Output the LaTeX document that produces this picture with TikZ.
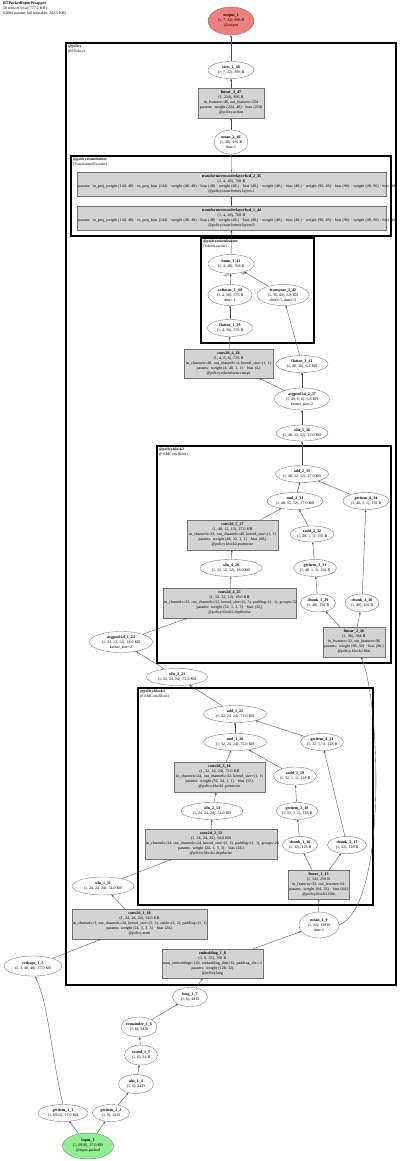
\documentclass[tikz,border=0pt]{standalone}
\usepackage{fontspec}
\setmainfont{Liberation Serif}
\usetikzlibrary{shapes.geometric,arrows.meta}
\definecolor{outred}{HTML}{F08080}
\definecolor{ingreen}{HTML}{90EE90}
\definecolor{opgray}{HTML}{D3D3D3}
\tikzset{
 every node/.style={font=\fontsize{4}{5}\selectfont},
 ell/.style={ellipse, draw=black!55, fill=white, line width=0.35pt, inner xsep=-4pt, inner ysep=-2pt, align=center},
 opbox/.style={rectangle, draw=black!55, fill=opgray, line width=0.35pt, inner xsep=1pt, inner ysep=1pt, align=center},
 clus/.style={draw=black, line width=1.4pt},
 clab/.style={anchor=north west, align=left, inner sep=0pt, font=\fontsize{3.8}{4.4}\selectfont},
 edge/.style={draw=black!70, line width=0.35pt, -{Stealth[length=2.4pt,width=2pt]}},
 elab/.style={inner sep=0pt, font=\fontsize{2.8}{3}\selectfont},
}
\begin{document}
\begin{tikzpicture}[x=1pt,y=-1pt]
\fill[white] (0,0) rectangle (400,1161);
\useasboundingbox (0,0) rectangle (400,1161);

% header
\node[anchor=north west, align=left, inner sep=0pt, font=\fontsize{4}{4.6}\selectfont] (hdr) at (3,2)
 {\textbf{RTPackedInputWrapper}\\58 tensors total (777.2 KB)\\62084 params (all trainable; 242.5 KB)};

% clusters
\draw[clus] (66,43) rectangle (396,985);
\node[clab] (lab_policy) at (68,45) {\textbf{@policy}\\(RTPolicy)};
\draw[clus] (71,156) rectangle (391,236);
\node[clab] (lab_tf) at (73,158) {\textbf{@policy.transformer}\\(TransformerEncoder)};
\draw[clus] (201,238) rectangle (314,343);
\node[clab] (lab_tl) at (203,240) {\textbf{@policy.tokenlearner}\\(TokenLearner)};
\draw[clus] (157,446) rectangle (391,663);
\node[clab] (lab_b2) at (159,448) {\textbf{@policy.block2}\\(FiLMConvBlock)};
\draw[clus] (138,688) rectangle (373,905);
\node[clab] (lab_b1) at (140,690) {\textbf{@policy.block1}\\(FiLMConvBlock)};

% top
\node[ell, fill=outred, minimum width=46pt, minimum height=28pt] (output_1) at (231,21)
 {\textbf{output\_1}\\(1, 7, 32), 896 B\\@output};
\node[ell, minimum width=46pt, minimum height=17pt] (view_1_48) at (231,70)
 {\textbf{view\_1\_48}\\(1, 7, 32), 896 B};
\node[opbox, text width=64pt, minimum height=30pt] (linear_3_47) at (231,103)
 {\textbf{linear\_3\_47}\\(1, 224), 896 B\\\mbox{in\_features=48, out\_features=224}\\\mbox{params: weight (224, 48) · bias (224)}\\@policy.action};
\node[ell, minimum width=34pt, minimum height=24pt] (mean_2_46) at (231,142)
 {\textbf{mean\_2\_46}\\(1, 48), 192 B\\dim=1};

% transformer
\node[opbox, text width=307pt, minimum height=24pt] (tf_2_45) at (231.5,184)
 {\textbf{transformerencoderlayerfwd\_2\_45}\\(1, 4, 48), 768 B\\\mbox{params: in\_proj\_weight (144, 48) · in\_proj\_bias (144) · weight (48, 48) · bias (48) · weight (48,) · bias (48,) · weight (48,) · bias (48,) · weight (96, 48) · bias (96) · weight (48, 96) · bias (48)}\\@policy.transformer.layers.1};
\node[opbox, text width=307pt, minimum height=24pt] (tf_1_44) at (231.5,218)
 {\textbf{transformerencoderlayerfwd\_1\_44}\\(1, 4, 48), 768 B\\\mbox{params: in\_proj\_weight (144, 48) · in\_proj\_bias (144) · weight (48, 48) · bias (48) · weight (48,) · bias (48,) · weight (48,) · bias (48,) · weight (96, 48) · bias (96) · weight (48, 96) · bias (48)}\\@policy.transformer.layers.0};

% tokenlearner
\node[ell, minimum width=46pt, minimum height=19pt] (bmm_1_43) at (231,264)
 {\textbf{bmm\_1\_43}\\(1, 4, 48), 768 B};
\node[ell, minimum width=44pt, minimum height=21pt] (softmax_1_40) at (230,295)
 {\textbf{softmax\_1\_40}\\(1, 4, 36), 576 B\\dim=-1};
\node[ell, minimum width=52pt, minimum height=21pt] (transpose_1_42) at (283,295)
 {\textbf{transpose\_1\_42}\\(1, 36, 48), 6.8 KB\\dim0=1, dim1=2};
\node[ell, minimum width=45pt, minimum height=17pt] (flatten_1_39) at (230,328)
 {\textbf{flatten\_1\_39}\\(1, 4, 36), 576 B};
\node[opbox, text width=87pt, minimum height=29pt] (conv2d_4_38) at (228.5,363.5)
 {\textbf{conv2d\_4\_38}\\(1, 4, 6, 6), 576 B\\\mbox{in\_channels=48, out\_channels=4, kernel\_size=(1, 1)}\\\mbox{params: weight (4, 48, 1, 1) · bias (4,)}\\@policy.tokenlearner.maps};
\node[ell, minimum width=52pt, minimum height=17pt] (flatten_2_41) at (302,364)
 {\textbf{flatten\_2\_41}\\(1, 48, 36), 6.8 KB};
\node[ell, minimum width=55pt, minimum height=22pt] (avgpool2d_2_37) at (302,399)
 {\textbf{avgpool2d\_2\_37}\\(1, 48, 6, 6), 6.8 KB\\kernel\_size=2};
\node[ell, minimum width=52pt, minimum height=16pt] (silu_5_36) at (302,433)
 {\textbf{silu\_5\_36}\\(1, 48, 12, 12), 27.0 KB};

% block2
\node[ell, minimum width=53pt, minimum height=17pt] (add_2_35) at (302,474)
 {\textbf{add\_2\_35}\\(1, 48, 12, 12), 27.0 KB};
\node[ell, minimum width=56pt, minimum height=17pt] (mul_2_33) at (295,501)
 {\textbf{mul\_2\_33}\\(1, 48, 12, 12), 27.0 KB};
\node[ell, minimum width=46pt, minimum height=17pt] (getitem_6_34) at (366,501)
 {\textbf{getitem\_6\_34}\\(1, 48, 1, 1), 192 B};
\node[opbox, text width=89pt, minimum height=30pt] (conv2d_5_27) at (232.5,535)
 {\textbf{conv2d\_5\_27}\\(1, 48, 12, 12), 27.0 KB\\\mbox{in\_channels=32, out\_channels=48, kernel\_size=(1, 1)}\\\mbox{params: weight (48, 32, 1, 1) · bias (48,)}\\@policy.block2.pointwise};
\node[ell, minimum width=44pt, minimum height=16pt] (radd_2_32) at (312,534)
 {\textbf{radd\_2\_32}\\(1, 48, 1, 1), 192 B};
\node[ell, minimum width=62pt, minimum height=17pt] (silu_4_28) at (231,568)
 {\textbf{silu\_4\_28}\\(1, 32, 12, 12), 18.0 KB};
\node[ell, minimum width=43pt, minimum height=17pt] (getitem_3_31) at (315,568)
 {\textbf{getitem\_3\_31}\\(1, 48, 1, 1), 192 B};
\node[opbox, text width=131pt, minimum height=30pt] (conv2d_4_25) at (229.5,603)
 {\textbf{conv2d\_4\_25}\\(1, 32, 12, 12), 18.0 KB\\\mbox{in\_channels=32, out\_channels=32, kernel\_size=(3, 3), padding=(1, 1), groups=32}\\\mbox{params: weight (32, 1, 3, 3) · bias (32,)}\\@policy.block2.depthwise};
\node[ell, minimum width=35pt, minimum height=18pt] (chunk_3_29) at (318,603)
 {\textbf{chunk\_3\_29}\\(1, 48), 192 B};
\node[ell, minimum width=34pt, minimum height=18pt] (chunk_4_30) at (362,603)
 {\textbf{chunk\_4\_30}\\(1, 48), 192 B};
\node[opbox, text width=60pt, minimum height=30pt] (linear_2_26) at (354,642)
 {\textbf{linear\_2\_26}\\(1, 96), 384 B\\\mbox{in\_features=32, out\_features=96}\\\mbox{params: weight (96, 32) · bias (96,)}\\@policy.block2.film};

% between blocks
\node[ell, minimum width=63pt, minimum height=21pt] (avgpool2d_1_24) at (121,642)
 {\textbf{avgpool2d\_1\_24}\\(1, 32, 12, 12), 18.0 KB\\kernel\_size=2};
\node[ell, minimum width=61pt, minimum height=17pt] (silu_3_23) at (177,677)
 {\textbf{silu\_3\_23}\\(1, 32, 24, 24), 72.0 KB};

% block1
\node[ell, minimum width=63pt, minimum height=17pt] (add_1_22) at (235,714)
 {\textbf{add\_1\_22}\\(1, 32, 24, 24), 72.0 KB};
\node[ell, minimum width=63pt, minimum height=17pt] (mul_1_20) at (235,742)
 {\textbf{mul\_1\_20}\\(1, 32, 24, 24), 72.0 KB};
\node[ell, minimum width=43pt, minimum height=17pt] (getitem_4_21) at (322,742)
 {\textbf{getitem\_4\_21}\\(1, 32, 1, 1), 128 B};
\node[opbox, text width=89pt, minimum height=30pt] (conv2d_3_16) at (219.5,777)
 {\textbf{conv2d\_3\_16}\\(1, 32, 24, 24), 72.0 KB\\\mbox{in\_channels=24, out\_channels=32, kernel\_size=(1, 1)}\\\mbox{params: weight (32, 24, 1, 1) · bias (32,)}\\@policy.block1.pointwise};
\node[ell, minimum width=43pt, minimum height=18pt] (radd_1_19) at (295,776)
 {\textbf{radd\_1\_19}\\(1, 32, 1, 1), 128 B};
\node[ell, minimum width=62pt, minimum height=17pt] (silu_2_13) at (212,811)
 {\textbf{silu\_2\_13}\\(1, 24, 24, 24), 54.0 KB};
\node[ell, minimum width=42pt, minimum height=17pt] (getitem_3_18) at (297,811)
 {\textbf{getitem\_3\_18}\\(1, 32, 1, 1), 128 B};
\node[opbox, text width=130pt, minimum height=30pt] (conv2d_2_12) at (211,844)
 {\textbf{conv2d\_2\_12}\\(1, 24, 24, 24), 54.0 KB\\\mbox{in\_channels=24, out\_channels=24, kernel\_size=(3, 3), padding=(1, 1), groups=24}\\\mbox{params: weight (24, 1, 3, 3) · bias (24,)}\\@policy.block1.depthwise};
\node[ell, minimum width=35pt, minimum height=17pt] (chunk_1_16) at (300,845)
 {\textbf{chunk\_1\_16}\\(1, 32), 128 B};
\node[ell, minimum width=39pt, minimum height=17pt] (chunk_2_17) at (347,845)
 {\textbf{chunk\_2\_17}\\(1, 32), 128 B};
\node[opbox, text width=59pt, minimum height=29pt] (linear_1_15) at (318.5,884.5)
 {\textbf{linear\_1\_15}\\(1, 64), 256 B\\\mbox{in\_features=32, out\_features=64}\\\mbox{params: weight (64, 32) · bias (64,)}\\@policy.block1.film};

% stem and lang
\node[ell, minimum width=62pt, minimum height=18pt] (silu_1_11) at (103,886)
 {\textbf{silu\_1\_11}\\(1, 24, 24, 24), 54.0 KB};
\node[opbox, text width=133pt, minimum height=30pt] (conv2d_1_10) at (139.5,924)
 {\textbf{conv2d\_1\_10}\\(1, 24, 24, 24), 54.0 KB\\\mbox{in\_channels=3, out\_channels=24, kernel\_size=(3, 3), stride=(2, 2), padding=(1, 1)}\\\mbox{params: weight (24, 3, 3, 3) · bias (24,)}\\@policy.stem};
\node[ell, minimum width=40pt, minimum height=26pt] (mean_1_9) at (319,925)
 {\textbf{mean\_1\_9}\\(1, 32), 128 B\\dim=1};
\node[opbox, text width=99pt, minimum height=29pt] (embedding_1_8) at (212.5,963.5)
 {\textbf{embedding\_1\_8}\\(1, 6, 32), 768 B\\\mbox{num\_embeddings=128, embedding\_dim=32, padding\_idx=-1}\\\mbox{params: weight (128, 32)}\\@policy.lang};

% outside
\node[ell, minimum width=58pt, minimum height=20pt] (reshape_1_3) at (33,966)
 {\textbf{reshape\_1\_3}\\(1, 3, 48, 48), 27.0 KB};
\node[ell, minimum width=35pt, minimum height=19pt] (long_1_7) at (190,997)
 {\textbf{long\_1\_7}\\(1, 6), 48 B};
\node[ell, minimum width=36pt, minimum height=20pt] (remainder_1_6) at (139,1027)
 {\textbf{remainder\_1\_6}\\(1, 6), 24 B};
\node[ell, minimum width=33pt, minimum height=20pt] (round_1_5) at (141,1055)
 {\textbf{round\_1\_5}\\(1, 6), 24 B};
\node[ell, minimum width=35pt, minimum height=19pt] (abs_1_4) at (136,1084)
 {\textbf{abs\_1\_4}\\(1, 6), 24 B};
\node[ell, minimum width=50pt, minimum height=17pt] (getitem_1_1) at (63,1113)
 {\textbf{getitem\_1\_1}\\(1, 6912), 27.0 KB};
\node[ell, minimum width=37pt, minimum height=17pt] (getitem_2_2) at (111,1113)
 {\textbf{getitem\_2\_2}\\(1, 6), 24 B};
\node[ell, fill=ingreen, minimum width=51pt, minimum height=26pt] (input_1) at (88,1146)
 {\textbf{input\_1}\\(1, 6918), 27.0 KB\\@input.packed};

% edges
\draw[edge] (input_1) -- (getitem_1_1);
\draw[edge] (input_1) -- (getitem_2_2);
\draw[edge] (getitem_2_2) -- (abs_1_4);
\draw[edge] (abs_1_4) -- (round_1_5);
\draw[edge] (round_1_5) -- (remainder_1_6);
\draw[edge] (remainder_1_6) -- (long_1_7);
\draw[edge] (long_1_7) -- (embedding_1_8);
\draw[edge] (embedding_1_8) -- (mean_1_9);
\draw[edge] (mean_1_9) -- (linear_1_15);
\draw[edge] (mean_1_9.east) .. controls (388,905) and (380,700) .. (linear_2_26.-65);
\draw[edge] (getitem_1_1.north) .. controls (52,1060) and (48,1000) .. (reshape_1_3.-80);
\draw[edge] (reshape_1_3) -- (conv2d_1_10);
\draw[edge] (conv2d_1_10) -- (silu_1_11);
\draw[edge] (silu_1_11) -- (conv2d_2_12);
\draw[edge] (conv2d_2_12) -- (silu_2_13);
\draw[edge] (silu_2_13) -- (conv2d_3_16);
\draw[edge] (conv2d_3_16) -- (mul_1_20);
\draw[edge] (linear_1_15) -- (chunk_1_16);
\draw[edge] (linear_1_15) -- (chunk_2_17);
\draw[edge] (chunk_1_16) -- (getitem_3_18);
\draw[edge] (getitem_3_18) -- (radd_1_19);
\draw[edge] (radd_1_19) -- (mul_1_20);
\draw[edge] (chunk_2_17) -- (getitem_4_21);
\draw[edge] (getitem_4_21) -- (add_1_22);
\draw[edge] (mul_1_20) -- (add_1_22);
\draw[edge] (add_1_22) -- (silu_3_23);
\draw[edge] (silu_3_23) -- (avgpool2d_1_24);
\draw[edge] (avgpool2d_1_24) -- (conv2d_4_25);
\draw[edge] (conv2d_4_25) -- (silu_4_28);
\draw[edge] (silu_4_28) -- (conv2d_5_27);
\draw[edge] (conv2d_5_27) -- (mul_2_33);
\draw[edge] (linear_2_26) -- (chunk_3_29);
\draw[edge] (linear_2_26) -- (chunk_4_30);
\draw[edge] (chunk_3_29) -- (getitem_3_31);
\draw[edge] (getitem_3_31) -- (radd_2_32);
\draw[edge] (radd_2_32) -- (mul_2_33);
\draw[edge] (chunk_4_30) -- (getitem_6_34);
\draw[edge] (getitem_6_34) -- (add_2_35);
\draw[edge] (mul_2_33) -- (add_2_35);
\draw[edge] (add_2_35) -- (silu_5_36);
\draw[edge] (silu_5_36) -- (avgpool2d_2_37);
\draw[edge] (avgpool2d_2_37) -- (conv2d_4_38);
\draw[edge] (avgpool2d_2_37) -- (flatten_2_41);
\draw[edge] (conv2d_4_38) -- (flatten_1_39);
\draw[edge] (flatten_1_39) -- (softmax_1_40);
\draw[edge] (softmax_1_40) -- (bmm_1_43);
\draw[edge] (flatten_2_41) -- (transpose_1_42);
\draw[edge] (transpose_1_42) -- (bmm_1_43);
\draw[edge] (bmm_1_43) -- (tf_1_44);
\draw[edge] (tf_1_44) -- (tf_2_45);
\draw[edge] (tf_2_45) -- (mean_2_46);
\draw[edge] (mean_2_46) -- (linear_3_47);
\draw[edge] (linear_3_47) -- (view_1_48);
\draw[edge] (view_1_48) -- (output_1);
\node[elab] (lab_arg0) at (226,276) {arg0};
\node[elab] (lab_arg1) at (244,274) {arg1};
\end{tikzpicture}
\end{document}
